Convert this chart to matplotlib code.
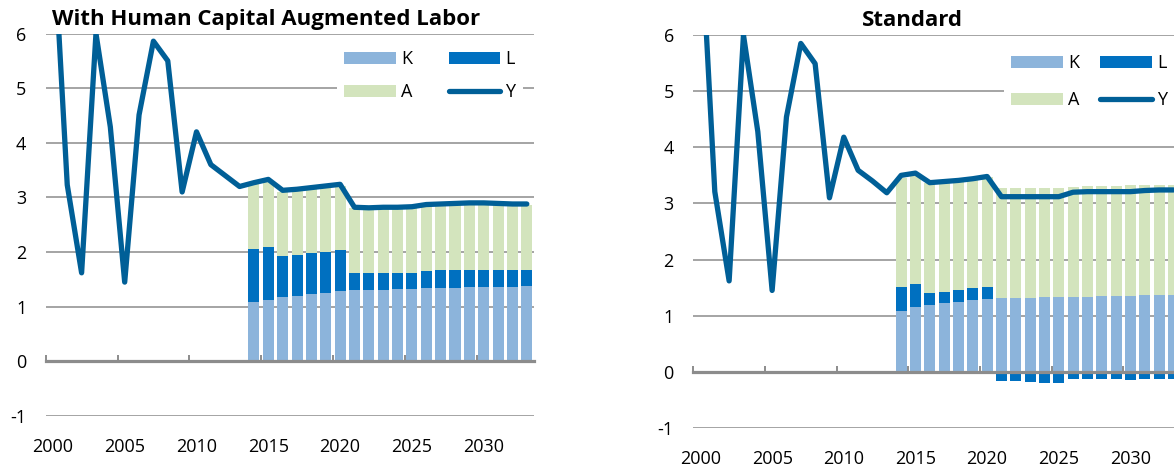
import numpy as np
import matplotlib
matplotlib.use("Agg")
import matplotlib.pyplot as plt
from matplotlib.patches import Patch
from matplotlib.lines import Line2D

plt.rcParams['font.family'] = ['Open Sans', 'DejaVu Sans']

years = list(range(2000, 2034))
bar_years = list(range(2014, 2034))

# --- With Human Capital Augmented Labor ---
hc_Y = [8.0, 3.23, 1.62, 6.0, 4.29, 1.45, 4.51, 5.86, 5.5, 3.1, 4.2, 3.6, 3.4, 3.2,
        3.27, 3.33, 3.13, 3.15, 3.18, 3.21, 3.24, 2.82, 2.81, 2.82, 2.82, 2.83,
        2.87, 2.88, 2.89, 2.90, 2.90, 2.89, 2.88, 2.88]
hc_K = [1.09, 1.13, 1.18, 1.20, 1.23, 1.26, 1.29, 1.31, 1.31, 1.31, 1.32, 1.33,
        1.34, 1.34, 1.35, 1.36, 1.36, 1.36, 1.36, 1.37]
hc_L = [0.96, 0.97, 0.74, 0.75, 0.75, 0.75, 0.74, 0.31, 0.31, 0.31, 0.30, 0.29,
        0.32, 0.33, 0.32, 0.31, 0.31, 0.31, 0.31, 0.30]
hc_A = [1.19, 1.19, 1.18, 1.17, 1.17, 1.17, 1.18, 1.18, 1.18, 1.18, 1.18, 1.19,
        1.19, 1.19, 1.20, 1.20, 1.20, 1.20, 1.20, 1.20]

# --- Standard ---
st_Y = [8.0, 3.21, 1.62, 6.0, 4.28, 1.45, 4.54, 5.85, 5.49, 3.1, 4.18, 3.59, 3.4, 3.19,
        3.50, 3.54, 3.37, 3.39, 3.41, 3.44, 3.48, 3.12, 3.12, 3.12, 3.12, 3.12,
        3.20, 3.21, 3.21, 3.21, 3.21, 3.23, 3.24, 3.24]
st_K = [1.09, 1.15, 1.19, 1.22, 1.25, 1.28, 1.30, 1.32, 1.31, 1.32, 1.33, 1.33,
        1.34, 1.34, 1.35, 1.36, 1.36, 1.37, 1.37, 1.37]
st_L = [0.42, 0.41, 0.21, 0.21, 0.20, 0.21, 0.21, -0.17, -0.17, -0.18, -0.19, -0.19,
        -0.125, -0.125, -0.13, -0.13, -0.14, -0.12, -0.12, -0.12]
st_A = [1.94, 1.93, 1.97, 1.96, 1.96, 1.94, 1.96, 1.95, 1.96, 1.95, 1.95, 1.95,
        1.95, 1.97, 1.96, 1.95, 1.96, 1.96, 1.96, 1.96]

titles = ["With Human Capital Augmented Labor", "Standard"]
xtick_years = [2000, 2005, 2010, 2015, 2020, 2025, 2030]
ytick_vals = [-1, 0, 1, 2, 3, 4, 5, 6]

C_K = "#8CB4DB"
C_L = "#0070C0"
C_A = "#D3E4BD"
C_Y = "#005F97"
C_GRID = "#8C8C8C"

W, H = 1174, 466
fig = plt.figure(figsize=(W / 100, H / 100), dpi=100)

def px_axes(x0, x1, ytop, ybot):
    return fig.add_axes([x0 / W, 1 - ybot / H, (x1 - x0) / W, (ybot - ytop) / H])

ax1 = px_axes(45.7, 534.0, 33.5, 416.0)
ax2 = px_axes(693.3, 1180.6, 35.0, 428.0)

FS = 13

def draw(ax, Y, K, L, A, title, title_x, leg_xy, colsp, labsp):
    K = np.array(K); L = np.array(L); A = np.array(A)
    Lpos = np.where(L > 0, L, 0)
    bw = 0.77
    ax.bar(bar_years, K, width=bw, color=C_K, zorder=1)
    ax.bar(bar_years, L, width=bw, bottom=np.where(L > 0, K, 0), color=C_L, zorder=1)
    ax.bar(bar_years, A, width=bw, bottom=K + Lpos, color=C_A, zorder=1)
    ax.plot(years, Y, color=C_Y, lw=3.8, solid_joinstyle='round',
            solid_capstyle='round', zorder=3)

    ax.set_xlim(1999.5, 2033.5)
    ax.set_ylim(-1, 6)
    ax.set_yticks(ytick_vals)
    ax.set_yticklabels([str(v) for v in ytick_vals], fontsize=FS)
    ax.tick_params(axis='y', length=0, pad=14)
    ax.grid(axis='y', color=C_GRID, lw=1.1, zorder=0)
    ax.set_axisbelow(True)
    for s in ['left', 'right', 'top']:
        ax.spines[s].set_visible(False)
    ax.spines['bottom'].set_position(('data', 0))
    ax.spines['bottom'].set_color(C_GRID)
    ax.spines['bottom'].set_linewidth(2.3)
    ax.spines['bottom'].set_zorder(2.5)
    ax.set_xticks([y - 0.5 for y in xtick_years])
    ax.set_xticklabels([])
    ax.tick_params(axis='x', direction='in', length=4, width=1.4, color=C_GRID)

    sec = ax.secondary_xaxis('bottom')
    sec.set_xticks(xtick_years)
    sec.set_xticklabels([str(y) for y in xtick_years], fontsize=FS)
    sec.tick_params(length=0, pad=16)
    sec.spines['bottom'].set_visible(False)

    fig.text(title_x / W, 1 - 20 / H, title, ha='center', va='center',
             fontsize=16, fontweight='bold')

    handles = [Patch(facecolor=C_K, edgecolor='none', label='K'),
               Patch(facecolor=C_A, edgecolor='none', label='A'),
               Patch(facecolor=C_L, edgecolor='none', label='L'),
               Line2D([0], [0], color=C_Y, lw=3.8, solid_capstyle='round', label='Y')]
    leg = ax.legend(handles=handles, ncol=2, loc='upper left',
                    bbox_to_anchor=(leg_xy[0] / W, 1 - leg_xy[1] / H),
                    bbox_transform=fig.transFigure, fontsize=FS,
                    frameon=True, framealpha=1, facecolor='white', edgecolor='none',
                    fancybox=False, borderpad=0.4, handlelength=2.85,
                    handleheight=0.63, handletextpad=0.3, columnspacing=colsp,
                    labelspacing=labsp, borderaxespad=0)
    leg.set_zorder(5)

draw(ax1, hc_Y, hc_K, hc_L, hc_A, titles[0], 266.5, (337, 43.0), 2.0, 0.82)
draw(ax2, st_Y, st_K, st_L, st_A, titles[1], 912.5, (1004, 47.0), 1.15, 1.05)

fig.savefig("out.png", dpi=100)
